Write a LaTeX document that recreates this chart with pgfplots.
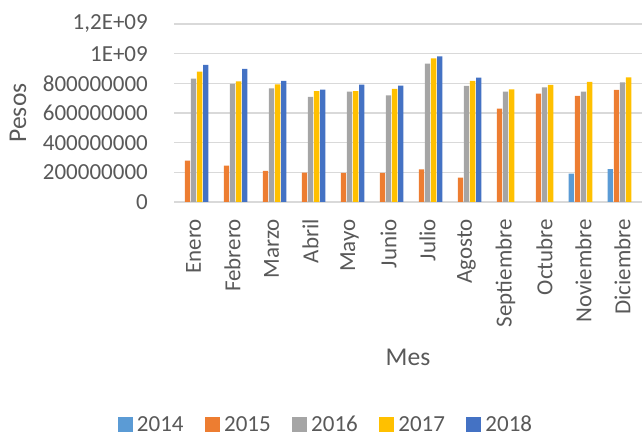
\documentclass[border=0pt]{standalone}
\usepackage{pgfplots}
\pgfplotsset{compat=1.18}
\usepackage{fontspec}
\setmainfont{Carlito}

\definecolor{txt}{HTML}{595959}
\definecolor{grd}{HTML}{D9D9D9}
\definecolor{c14}{HTML}{5B9BD5}
\definecolor{c15}{HTML}{ED7D31}
\definecolor{c16}{HTML}{A5A5A5}
\definecolor{c17}{HTML}{FFC000}
\definecolor{c18}{HTML}{4472C4}

% square legend swatches, as in the spreadsheet
\pgfplotsset{
  /pgfplots/ybar legend/.style={
    /pgfplots/legend image code/.code={
      \fill[##1] (0bp,-7.5bp) rectangle (15bp,7.5bp);
    },
  },
}

\begin{document}
\begin{tikzpicture}[x=1bp,y=1bp]
\useasboundingbox (0,0) rectangle (643,436);
\begin{axis}[
    at={(174bp,234bp)}, anchor=south west,
    width=468bp, height=178bp, scale only axis,
    ybar=0.8bp, bar width=5.3bp,
    xmin=-0.5, xmax=11.5,
    ymin=0, ymax=1.2e9,
    xtick={0,...,11},
    xticklabels={Enero,Febrero,Marzo,Abril,Mayo,Junio,Julio,Agosto,Septiembre,Octubre,Noviembre,Diciembre},
    ytick={0,2e8,4e8,6e8,8e8,1e9,1.2e9},
    yticklabels={0,200000000,400000000,600000000,800000000,1E+09,{1,2E+09}},
    scaled y ticks=false,
    major tick length=0pt,
    axis line style={draw=none},
    ymajorgrids,
    grid style={grd, line width=1.5bp},
    tick label style={font=\fontsize{23bp}{27bp}\selectfont, text=txt},
    xticklabel style={rotate=90, anchor=east, inner xsep=17bp, inner ysep=0pt},
    yticklabel style={anchor=east, inner xsep=26bp, inner ysep=0pt},
    label style={font=\fontsize{25.6bp}{30bp}\selectfont, text=txt},
    xlabel={Mes},
    xlabel style={at={(axis description cs:0.5,-0.871)}, anchor=center},
    ylabel={Pesos},
    ylabel style={at={(axis description cs:-0.3333,0.5)}, anchor=center},
    legend columns=5,
    legend style={draw=none, fill=none,
      at={(axis description cs:0.327,-1.250)}, anchor=center,
      font=\fontsize{23bp}{27bp}\selectfont, text=txt,
      nodes={inner xsep=4bp, inner ysep=0pt},
      /tikz/every even column/.append style={column sep=17.5bp}},
]
\addplot[fill=c14, draw=none] coordinates {
    (10,191000000) (11,222000000)
};
\addplot[fill=c15, draw=none] coordinates {
    (0,279000000) (1,245000000) (2,209000000) (3,198000000)
    (4,196000000) (5,196000000) (6,220000000) (7,164000000)
    (8,629000000) (9,730000000) (10,715000000) (11,755000000)
};
\addplot[fill=c16, draw=none] coordinates {
    (0,831000000) (1,796000000) (2,766000000) (3,708000000)
    (4,744000000) (5,719000000) (6,933000000) (7,782000000)
    (8,744000000) (9,773000000) (10,744000000) (11,807000000)
};
\addplot[fill=c17, draw=none] coordinates {
    (0,879000000) (1,813000000) (2,793000000) (3,748000000)
    (4,748000000) (5,762000000) (6,969000000) (7,816000000)
    (8,760000000) (9,789000000) (10,809000000) (11,840000000)
};
\addplot[fill=c18, draw=none] coordinates {
    (0,924000000) (1,897000000) (2,816000000) (3,757000000)
    (4,791000000) (5,784000000) (6,982000000) (7,838000000)
};
\legend{2014,2015,2016,2017,2018}
\end{axis}
\end{tikzpicture}
\end{document}
